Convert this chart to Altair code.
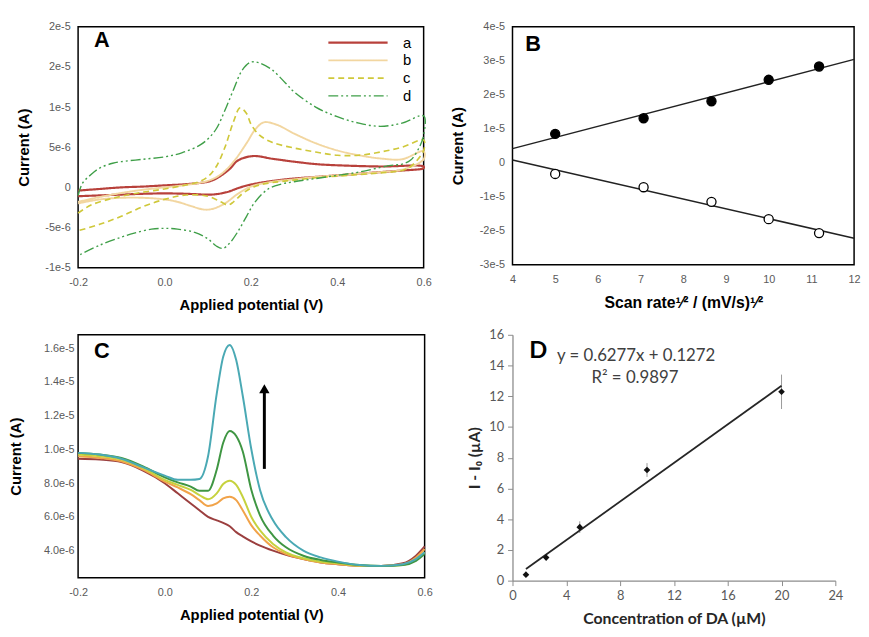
import altair as alt
import pandas as pd

FONT = "Liberation Sans"
DFONT = "Lato"

# ---------------- Panel A: cyclic voltammograms (current in µA) ----------------
A_curves = ["a", "b", "c", "d"]
A_colors = ["#b8413b", "#f2d6a0", "#cfc83a", "#3f9f48"]
A_dash = [[1, 0], [1, 0], [6, 4], [10, 3, 2, 3, 2, 3]]
A_width = [2.2, 1.4, 2.0, 2.0]

a_V = [-0.2, -0.15, -0.1, -0.05, 0.0, 0.05, 0.1, 0.12, 0.15, 0.17, 0.205, 0.25, 0.3, 0.35, 0.4, 0.5, 0.6,
       0.6, 0.55, 0.5, 0.45, 0.4, 0.35, 0.3, 0.25, 0.2, 0.17, 0.15, 0.12, 0.1, 0.05, 0.0, -0.05, -0.1, -0.15, -0.2]
a_I = [-0.4, -0.2, 0.0, 0.1, 0.25, 0.4, 0.7, 1.1, 2.25, 3.35, 3.9, 3.56, 3.2, 2.9, 2.75, 2.6, 2.6,
       2.4, 2.1, 1.9, 1.7, 1.5, 1.3, 1.1, 0.8, 0.35, -0.1, -0.5, -0.85, -0.9, -0.8, -0.75, -0.8, -0.9, -1.0, -1.1]

b_V = [-0.2, -0.15, -0.1, -0.05, 0.0, 0.05, 0.1, 0.13, 0.16, 0.19, 0.21, 0.23, 0.26, 0.3, 0.35, 0.4, 0.45, 0.5, 0.55, 0.6,
       0.6, 0.55, 0.5, 0.45, 0.4, 0.35, 0.3, 0.25, 0.2, 0.17, 0.14, 0.11, 0.09, 0.06, 0.03, 0.0, -0.05, -0.1, -0.15, -0.2]
b_I = [-1.8, -1.2, -0.7, -0.3, 0.0, 0.3, 0.8, 1.6, 3.2, 5.5, 7.2, 8.1, 7.8, 6.7, 5.5, 4.6, 4.0, 3.6, 3.5, 4.5,
       3.5, 2.2, 1.9, 1.7, 1.5, 1.3, 1.0, 0.7, 0.1, -0.8, -2.0, -2.7, -2.75, -2.3, -1.8, -1.5, -1.3, -1.3, -1.5, -2.0]

c_V = [-0.2, -0.17, -0.13, -0.1, -0.05, 0.0, 0.05, 0.08, 0.1, 0.12, 0.14, 0.16, 0.175, 0.19, 0.2, 0.22, 0.25, 0.3, 0.35,
       0.4, 0.45, 0.5, 0.55, 0.6,
       0.6, 0.57, 0.55, 0.5, 0.45, 0.4, 0.35, 0.3, 0.25, 0.22, 0.2, 0.18, 0.16, 0.147, 0.13, 0.1, 0.05, 0.0, -0.05, -0.1,
       -0.15, -0.2]
c_I = [-3.2, -2.2, -1.5, -1.1, -0.6, -0.2, 0.3, 0.7, 1.3, 2.6, 5.0, 8.2, 9.9, 9.2, 7.9, 6.5, 5.6, 4.9, 4.4,
       4.0, 4.0, 4.4, 5.0, 5.9,
       4.6, 2.6, 2.1, 1.8, 1.6, 1.4, 1.2, 0.9, 0.6, 0.3, -0.1, -0.8, -1.8, -2.2, -1.8, -1.1, -0.95, -1.5, -2.4, -3.6,
       -4.6, -5.4]

d_V = [-0.2, -0.19, -0.17, -0.15, -0.12, -0.1, -0.05, 0.0, 0.04, 0.08, 0.1, 0.12, 0.14, 0.16, 0.18, 0.2, 0.22, 0.25,
       0.28, 0.3, 0.35, 0.4, 0.45, 0.5, 0.55, 0.6,
       0.6, 0.59, 0.57, 0.55, 0.52, 0.45, 0.4, 0.35, 0.3, 0.27, 0.24, 0.21, 0.19, 0.17, 0.15, 0.135, 0.12, 0.1, 0.07,
       0.03, 0.0, -0.03, -0.07, -0.1, -0.15, -0.2]
d_I = [-1.0, 0.5, 1.6, 2.4, 3.0, 3.2, 3.5, 3.8, 4.3, 5.2, 6.0, 7.3, 9.6, 12.2, 14.6, 15.6, 15.5, 14.6,
       13.0, 11.9, 10.0, 8.8, 8.0, 7.6, 8.0, 8.9,
       6.5, 5.0, 3.4, 2.9, 2.7, 1.9, 1.5, 1.1, 0.7, 0.4, -0.2, -1.8, -3.6, -5.5, -7.0, -7.6, -7.3, -6.4, -5.6,
       -5.2, -5.1, -5.2, -5.7, -6.2, -7.2, -8.5]

A_y_labels = ["-1e-5", "-5e-6", "0", "5e-6", "1e-5", "2e-5", "2e-5"]
A_x_labels = ["-0.2", "0.0", "0.2", "0.4", "0.6"]

# ---------------- Panel B: peak current vs sqrt(scan rate) ----------------
B_x = [5.0, 7.07, 8.66, 10.0, 11.18]
B_anodic = [0.85e-5, 1.31e-5, 1.81e-5, 2.44e-5, 2.83e-5]
B_cathodic = [-0.33e-5, -0.72e-5, -1.15e-5, -1.66e-5, -2.07e-5]
B_fit_x = [4, 12]
B_fit_anodic = [0.415e-5, 3.04e-5]
B_fit_cathodic = [0.08e-5, -2.22e-5]
B_y_labels = ["-3e-5", "-2e-5", "-1e-5", "0", "1e-5", "2e-5", "3e-5", "4e-5"]

# ---------------- Panel C: DPV curves (current in µA) ----------------
C_V = [-0.2, -0.15, -0.1, -0.05, 0.0, 0.03, 0.06, 0.08, 0.1, 0.12, 0.135, 0.15, 0.165, 0.18, 0.2, 0.22, 0.25,
       0.28, 0.32, 0.36, 0.4, 0.45, 0.5, 0.55, 0.58, 0.6]
C_series = ["c1", "c2", "c3", "c4", "c5"]
C_colors = ["#9b3f3f", "#f1a349", "#c6d23e", "#3f9643", "#4aa9b4"]
C_c1 = [9.45, 9.4, 9.25, 8.75, 8.0, 7.4, 6.8, 6.4, 6.0, 5.8, 5.65, 5.45, 5.1, 4.85, 4.55, 4.3, 4.0,
        3.75, 3.5, 3.3, 3.2, 3.1, 3.1, 3.25, 3.7, 4.25]
C_c2 = [9.6, 9.5, 9.3, 8.8, 8.1, 7.75, 7.35, 7.0, 6.65, 6.8, 7.1, 7.2, 7.0, 6.4, 5.5, 4.9, 4.2,
        3.8, 3.5, 3.3, 3.2, 3.1, 3.1, 3.2, 3.6, 4.1]
C_c3 = [9.7, 9.6, 9.4, 8.9, 8.2, 7.9, 7.6, 7.3, 7.05, 7.4, 7.95, 8.15, 7.9, 7.2, 6.0, 5.2, 4.4,
        3.9, 3.55, 3.35, 3.25, 3.12, 3.1, 3.15, 3.5, 3.9]
C_c4 = [9.8, 9.7, 9.5, 9.0, 8.35, 8.05, 7.8, 7.55, 7.55, 8.8, 10.4, 11.1, 10.8, 9.9, 7.6, 6.1, 4.9,
        4.2, 3.7, 3.45, 3.3, 3.15, 3.1, 3.15, 3.4, 3.8]
C_c5 = [9.8, 9.7, 9.45, 8.95, 8.45, 8.2, 8.2, 8.25, 9.6, 13.3, 15.5, 16.2, 15.3, 13.2, 10.0, 7.6, 5.8,
        4.8, 4.0, 3.6, 3.35, 3.15, 3.1, 3.2, 3.5, 3.9]
C_arrow_V = 0.23
C_arrow_from = 8.85e-6
C_arrow_to = 13.6e-6
C_y_labels = ["4.0e-6", "6.0e-6", "8.0e-6", "1.0e-5", "1.2e-5", "1.4e-5", "1.6e-5"]

# ---------------- Panel D: calibration ----------------
D_x = [1, 2.5, 5, 10, 20]
D_y = [0.39, 1.5, 3.48, 7.2, 12.29]
D_err = [0.1, 0.15, 0.38, 0.45, 1.12]
D_slope, D_intercept = 0.6277, 0.1272
D_fit_x = [1, 20]

# ============ build tables ============
rows = []
for name, V, I in zip(A_curves, [a_V, b_V, c_V, d_V], [a_I, b_I, c_I, d_I]):
    for k, (v, i) in enumerate(zip(V, I)):
        rows.append({"curve": name, "V": v, "I": i * 1e-6, "ord": k})
dfA = pd.DataFrame(rows)

rows = []
for name, vals in zip(C_series, [C_c1, C_c2, C_c3, C_c4, C_c5]):
    for v, i in zip(C_V, vals):
        rows.append({"s": name, "V": v, "I": i * 1e-6})
dfC = pd.DataFrame(rows)

dfB = pd.DataFrame({"x": B_x + B_x, "y": B_anodic + B_cathodic,
                    "kind": ["anodic"] * len(B_x) + ["cathodic"] * len(B_x)})
dfBfit = pd.DataFrame({"x": B_fit_x + B_fit_x, "y": B_fit_anodic + B_fit_cathodic,
                       "kind": ["anodic"] * 2 + ["cathodic"] * 2})
dfD = pd.DataFrame({"x": D_x, "y": D_y,
                    "lo": [y - e for y, e in zip(D_y, D_err)],
                    "hi": [y + e for y, e in zip(D_y, D_err)]})
dfDfit = pd.DataFrame({"x": D_fit_x, "y": [D_slope * x + D_intercept for x in D_fit_x]})


def box_axis(title, values, labels, n, title_pad, ext=None, lab_pad=8, **kw):
    d = dict(title=title, values=values,
             labelExpr=str(labels) + "[round(datum.index*%d)]" % n,
             domain=False, grid=False, ticks=False, labelFlush=False, labelOverlap=False,
             labelFont=FONT, labelFontSize=11, labelColor="#5a5a5a", labelPadding=lab_pad,
             titleFont=FONT, titleFontSize=15, titleFontWeight="bold", titleColor="black",
             titlePadding=title_pad)
    if ext is not None:
        d["minExtent"] = ext
        d["maxExtent"] = ext
    d.update(kw)
    return alt.Axis(**d)


def xV_axis():
    return box_axis("Applied potential (V)", [-0.2, 0, 0.2, 0.4, 0.6], A_x_labels, 4, 10, lab_pad=9)


legA = dict(orient="none", legendX=252, legendY=7, title=None, symbolType="stroke",
            symbolSize=3600, clipHeight=18, labelFont=FONT, labelFontSize=15, labelColor="black",
            labelOffset=14, rowPadding=0)

# ---- A ----
linesA = alt.Chart(dfA).mark_line(interpolate="catmull-rom").encode(
    x=alt.X("V:Q", scale=alt.Scale(domain=[-0.2, 0.6], nice=False, zero=False), axis=xV_axis()),
    y=alt.Y("I:Q", scale=alt.Scale(domain=[-1e-5, 2e-5], nice=False),
            axis=box_axis("Current (A)", [-1e-5, -5e-6, 0, 5e-6, 1e-5, 1.5e-5, 2e-5], A_y_labels, 6, 10, ext=37)),
    color=alt.Color("curve:N", scale=alt.Scale(domain=A_curves, range=A_colors), legend=alt.Legend(**legA)),
    strokeDash=alt.StrokeDash("curve:N", scale=alt.Scale(domain=A_curves, range=A_dash),
                              legend=alt.Legend(**legA)),
    strokeWidth=alt.StrokeWidth("curve:N", scale=alt.Scale(domain=A_curves, range=A_width),
                                legend=alt.Legend(**legA)),
    order=alt.Order("ord:Q"),
)
letterA = alt.Chart().mark_text(text="A", font=FONT, fontSize=22, fontWeight="bold", align="left",
                                baseline="alphabetic").encode(x=alt.value(16), y=alt.value(20))
chartA = alt.layer(linesA, letterA).properties(width=350, height=244)


# ---- B ----
def xB():
    return alt.X("x:Q", scale=alt.Scale(domain=[4, 12], nice=False, zero=False),
                 axis=box_axis("Scan rate\u00b9\u2044\u00b2 / (mV/s)\u00b9\u2044\u00b2", list(range(4, 13)),
                               [str(v) for v in range(4, 13)], 8, 10, lab_pad=9, titleFontSize=16))


def yB():
    return alt.Y("y:Q", scale=alt.Scale(domain=[-3e-5, 4e-5], nice=False),
                 axis=box_axis("Current (A)", [-3e-5, -2e-5, -1e-5, 0, 1e-5, 2e-5, 3e-5, 4e-5], B_y_labels, 7, 11,
                               ext=37))


fitB = alt.Chart(dfBfit).mark_line(color="#222222", strokeWidth=1.5).encode(x=xB(), y=yB(), detail="kind:N")
ptsB = alt.Chart(dfB).mark_point(size=85, strokeWidth=1.3, opacity=1, shape="circle", stroke="black").encode(
    x=xB(), y=yB(),
    fill=alt.Fill("kind:N", scale=alt.Scale(domain=["anodic", "cathodic"], range=["black", "white"]), legend=None))
letterB = alt.Chart().mark_text(text="B", font=FONT, fontSize=22, fontWeight="bold", align="left",
                                baseline="alphabetic").encode(x=alt.value(13), y=alt.value(25))
chartB = alt.layer(fitB, ptsB, letterB).properties(width=346, height=241)


# ---- C ----
def xC():
    return alt.X("V:Q", scale=alt.Scale(domain=[-0.2, 0.6], nice=False, zero=False), axis=xV_axis())


def yC(field="I"):
    return alt.Y(field + ":Q", scale=alt.Scale(domain=[2.4e-6, 1.68e-5], nice=False),
                 axis=box_axis("Current (A)", [4e-6, 6e-6, 8e-6, 1e-5, 1.2e-5, 1.4e-5, 1.6e-5], C_y_labels, 6, 20,
                               ext=35, lab_pad=4))


linesC = alt.Chart(dfC).mark_line(interpolate="monotone", strokeWidth=2).encode(
    x=xC(), y=yC(),
    color=alt.Color("s:N", scale=alt.Scale(domain=C_series, range=C_colors), legend=None))
arrowC = alt.Chart(pd.DataFrame({"V": [C_arrow_V], "I": [C_arrow_from], "I2": [C_arrow_to]})).mark_rule(
    color="black", strokeWidth=3).encode(x=xC(), y=yC(), y2="I2:Q")
headC = alt.Chart(pd.DataFrame({"V": [C_arrow_V], "I": [C_arrow_to]})).mark_point(
    shape="triangle-up", filled=True, color="black", size=110, opacity=1).encode(x=xC(), y=yC())
letterC = alt.Chart().mark_text(text="C", font=FONT, fontSize=22, fontWeight="bold", align="left",
                                baseline="alphabetic").encode(x=alt.value(16), y=alt.value(23))
chartC = alt.layer(linesC, arrowC, headC, letterC).properties(width=351, height=246)

# ---- D ----
d_axis = dict(domain=True, domainColor="#8c8c8c", domainWidth=1.3, grid=False, ticks=True, tickSize=5,
              tickColor="#8c8c8c", labelFont=DFONT, labelFontSize=13, labelColor="#595959", labelPadding=4,
              labelFlush=False, labelOverlap=False,
              titleFont=DFONT, titleFontSize=16, titleFontWeight="bold", titleColor="#262626")


def xD():
    return alt.X("x:Q", scale=alt.Scale(domain=[0, 24], nice=False),
                 axis=alt.Axis(title="Concentration of DA (\u00b5M)", values=list(range(0, 25, 4)), titlePadding=8,
                               **d_axis))


def yD(field="y"):
    return alt.Y(field + ":Q", scale=alt.Scale(domain=[0, 16], nice=False),
                 axis=alt.Axis(title="I - I\u2080 (\u00b5A)", values=list(range(0, 17, 2)), titlePadding=6, **d_axis))


errD = alt.Chart(dfD).mark_rule(color="#9a9a9a", strokeWidth=1).encode(x=xD(), y=yD("lo"), y2="hi:Q")
fitD = alt.Chart(dfDfit).mark_line(color="#262626", strokeWidth=1.8).encode(x=xD(), y=yD())
ptsD = alt.Chart(dfD).mark_point(shape="diamond", filled=True, color="#111111", size=45, opacity=1).encode(
    x=xD(), y=yD())
letterD = alt.Chart().mark_text(text="D", font=DFONT, fontSize=24, fontWeight="bold", align="left",
                                baseline="alphabetic").encode(x=alt.value(17), y=alt.value(24))
eq1 = alt.Chart().mark_text(text="y = 0.6277x + 0.1272", font=DFONT, fontSize=17, color="#404040",
                            align="left", baseline="alphabetic").encode(x=alt.value(45), y=alt.value(27))
eq2 = alt.Chart().mark_text(text="R\u00b2 = 0.9897", font=DFONT, fontSize=17, color="#404040",
                            align="left", baseline="alphabetic").encode(x=alt.value(80), y=alt.value(49))
chartD = alt.layer(errD, fitD, ptsD, letterD, eq1, eq2).properties(
    width=327, height=249, view=alt.ViewBackground(stroke="transparent"))

chart = alt.concat(chartA, chartB, chartC, chartD, columns=2, spacing={"row": 15, "column": 16}).properties(
    padding={"left": 0, "top": 8, "right": 0, "bottom": 0}
).resolve_scale(color="independent", strokeDash="independent", strokeWidth="independent",
                fill="independent").configure_view(
    stroke="black", strokeWidth=1.5
)

chart.save("out.html", embed_options={"renderer": "svg", "actions": False})
